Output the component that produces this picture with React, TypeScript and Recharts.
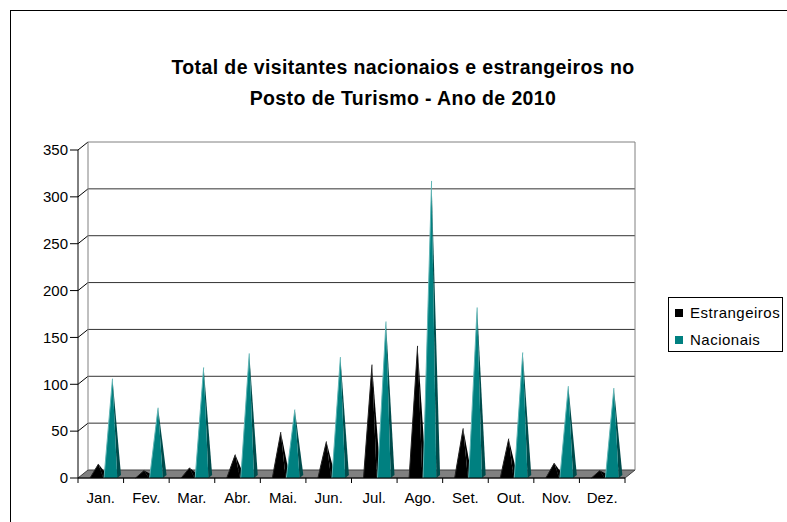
import React from 'react';
import { BarChart, Bar, XAxis, YAxis, CartesianGrid } from 'recharts';

// values
const months = ['Jan.', 'Fev.', 'Mar.', 'Abr.', 'Mai.', 'Jun.', 'Jul.', 'Ago.', 'Set.', 'Out.', 'Nov.', 'Dez.'];
const estrangeiros = [15, 8, 11, 25, 49, 39, 121, 141, 53, 42, 16, 8];
const nacionais = [106, 75, 118, 133, 73, 129, 167, 317, 182, 134, 98, 96];
const yTicks = [0, 50, 100, 150, 200, 250, 300, 350];

const data = months.map((m, i) => ({
  month: m,
  Estrangeiros: estrangeiros[i],
  Nacionais: nacionais[i],
}));

const FONT = "Arial, 'Liberation Sans', sans-serif";
// 3D depth of the back wall
const DX = 10;
const DY = 8;

const Pyramid = (props: any) => {
  const { x, y, width, height, fill, side, edge } = props;
  if (!height || height <= 0) return null;
  const x0 = x + 5;
  const b = y + height;
  const tx = x0 + width * 0.5;
  const fr = x0 + width * 0.78;
  const br = x0 + width;
  return (
    <g>
      <polygon points={`${tx},${y} ${fr},${b} ${br},${b - 3}`} fill={side} />
      <polygon points={`${x0},${b} ${tx},${y} ${fr},${b}`} fill={fill} />
      <line x1={x0} y1={b} x2={tx} y2={y} stroke={edge} strokeWidth={1} />
    </g>
  );
};

const gridLine = (p: any) => {
  const { x1, y1, x2, y, height } = p;
  const bottom = y + height;
  if (Math.abs(y1 - bottom) < 0.5) {
    return (
      <polygon
        key={p.key}
        points={`${x1},${y1} ${x2},${y1} ${x2 + DX},${y1 - DY} ${x1 + DX},${y1 - DY}`}
        fill="#808080"
        stroke="#404040"
      />
    );
  }
  const isTop = Math.abs(y1 - y) < 0.5;
  return (
    <g key={p.key}>
      <line x1={x1} y1={y1} x2={x1 + DX} y2={y1 - DY} stroke="#000" />
      <line x1={x1 + DX} y1={y1 - DY} x2={x2 + DX} y2={y1 - DY} stroke={isTop ? '#808080' : '#333'} />
      {isTop && (
        <>
          <line x1={x1 + DX} y1={y1 - DY} x2={x1 + DX} y2={bottom - DY} stroke="#808080" />
          <line x1={x2 + DX} y1={y1 - DY} x2={x2 + DX} y2={bottom - DY} stroke="#808080" />
        </>
      )}
    </g>
  );
};

const XTick = (p: any) => {
  const { x, y, payload, index } = p;
  const off = payload && payload.offset ? payload.offset : 22.8;
  return (
    <g>
      {index === 0 && <line x1={x - off} y1={y} x2={x - off} y2={y + 5} stroke="#000" />}
      <line x1={x + off} y1={y} x2={x + off} y2={y + 5} stroke="#000" />
      <text x={x} y={y + 25} textAnchor="middle" fontSize={15} fontFamily={FONT} fill="#000">
        {payload.value}
      </text>
    </g>
  );
};

export default function App() {
  return (
    <div style={{ position: 'absolute', left: 0, top: 0, width: 787, height: 522, overflow: 'hidden', background: '#fff' }}>
      <div style={{ position: 'absolute', left: 10, top: 10, width: 900, height: 700, border: '1px solid #000' }} />
      <div
        style={{
          position: 'absolute',
          left: 0,
          top: 52,
          width: 806,
          textAlign: 'center',
          fontFamily: FONT,
          fontWeight: 'bold',
          fontSize: 19.5,
          letterSpacing: 0.4,
          lineHeight: '31px',
          color: '#000',
        }}
      >
        Total de visitantes nacionaios e estrangeiros no
        <br />
        Posto de Turismo - Ano de 2010
      </div>
      <div style={{ position: 'absolute', left: 0, top: 0 }}>
        <BarChart
          width={787}
          height={522}
          data={data}
          margin={{ top: 150, right: 162, left: 0, bottom: 14 }}
          barSize={17}
          barGap={-3}
        >
          <CartesianGrid vertical={false} horizontal={gridLine} />
          <XAxis
            dataKey="month"
            interval={0}
            height={30}
            tickLine={false}
            tickSize={0}
            tickMargin={0}
            axisLine={{ stroke: '#000' }}
            tick={<XTick />}
          />
          <YAxis
            domain={[0, 350]}
            ticks={yTicks}
            width={78}
            tickSize={8}
            tickMargin={2}
            interval={0}
            axisLine={{ stroke: '#000' }}
            tickLine={{ stroke: '#000' }}
            tick={{ fill: '#000', fontSize: 15, fontFamily: FONT }}
          />
          <Bar
            dataKey="Estrangeiros"
            fill="#000"
            isAnimationActive={false}
            shape={(p: any) => <Pyramid {...p} side="#000" edge="#222" />}
          />
          <Bar
            dataKey="Nacionais"
            fill="#008080"
            isAnimationActive={false}
            shape={(p: any) => <Pyramid {...p} side="#004c4c" edge="#5fb5b5" />}
          />
        </BarChart>
      </div>
      <div
        style={{
          position: 'absolute',
          left: 668,
          top: 297,
          width: 115,
          height: 55,
          border: '1px solid #000',
          fontFamily: FONT,
          fontSize: 15,
          letterSpacing: 0.5,
          color: '#000',
          boxSizing: 'border-box',
        }}
      >
        <div style={{ position: 'absolute', left: 6, top: 11, width: 8, height: 8, background: '#000' }} />
        <div style={{ position: 'absolute', left: 21, top: 6, lineHeight: '17px', whiteSpace: 'nowrap' }}>Estrangeiros</div>
        <div style={{ position: 'absolute', left: 6, top: 38, width: 8, height: 8, background: '#008080' }} />
        <div style={{ position: 'absolute', left: 21, top: 33, lineHeight: '17px', whiteSpace: 'nowrap' }}>Nacionais</div>
      </div>
    </div>
  );
}
